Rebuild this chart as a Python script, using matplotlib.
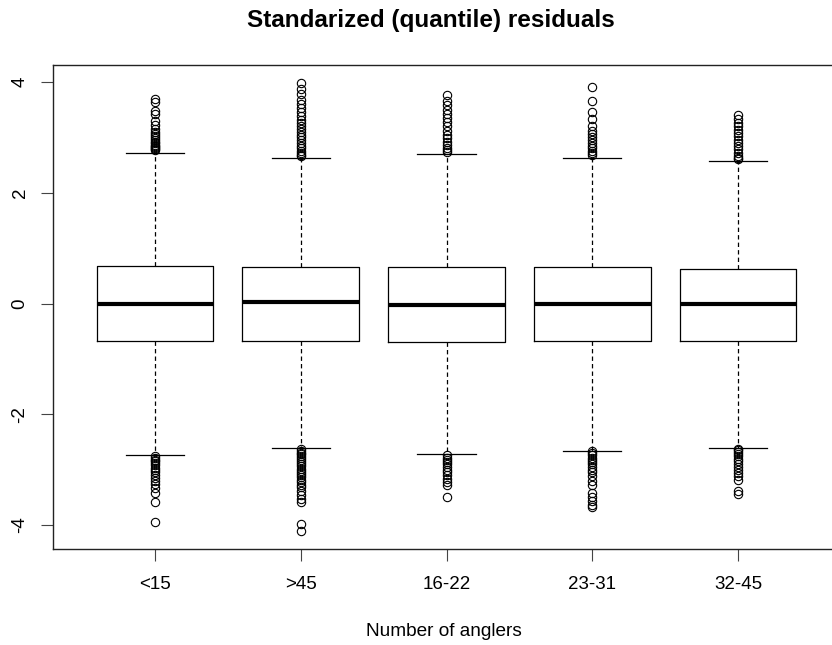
import matplotlib
matplotlib.use("Agg")
import matplotlib.pyplot as plt

plt.rcParams['font.family'] = ['Liberation Sans', 'DejaVu Sans']

categories = ["<15", ">45", "16-22", "23-31", "32-45"]
q1 = [-0.68, -0.68, -0.70, -0.67, -0.67]
med = [0.00, 0.02, -0.02, 0.00, 0.00]
q3 = [0.67, 0.65, 0.65, 0.65, 0.63]
whislo = [-2.74, -2.61, -2.72, -2.67, -2.61]
whishi = [2.72, 2.63, 2.70, 2.63, 2.58]

fliers_upper = [
    [3.70, 3.63, 3.48, 3.42, 3.30, 3.22, 3.15, 3.10, 3.06, 3.02, 2.98, 2.95, 2.92,
     2.90, 2.87, 2.85, 2.83, 2.81, 2.79, 2.77],
    [3.98, 3.87, 3.78, 3.68, 3.60, 3.52, 3.45, 3.38, 3.32, 3.26, 3.20, 3.15, 3.10,
     3.05, 3.00, 2.95, 2.90, 2.85, 2.80, 2.76, 2.72, 2.68, 2.66],
    [3.76, 3.66, 3.58, 3.50, 3.42, 3.35, 3.27, 3.20, 3.12, 3.05, 2.98, 2.92, 2.86,
     2.81, 2.77, 2.74],
    [3.90, 3.66, 3.45, 3.33, 3.20, 3.12, 3.06, 3.00, 2.95, 2.90, 2.85, 2.80, 2.76,
     2.72, 2.68],
    [3.40, 3.33, 3.26, 3.20, 3.14, 3.08, 3.02, 2.96, 2.90, 2.84, 2.78, 2.72, 2.67,
     2.63, 2.60],
]
fliers_lower = [
    [-2.76, -2.79, -2.82, -2.85, -2.88, -2.92, -2.96, -3.00, -3.05, -3.10, -3.15,
     -3.20, -3.25, -3.33, -3.42, -3.58, -3.95],
    [-2.63, -2.66, -2.69, -2.72, -2.75, -2.78, -2.82, -2.86, -2.90, -2.94, -2.98,
     -3.02, -3.06, -3.10, -3.14, -3.18, -3.22, -3.27, -3.32, -3.38, -3.45, -3.52,
     -3.58, -3.98, -4.10],
    [-2.74, -2.78, -2.82, -2.86, -2.90, -2.95, -3.00, -3.05, -3.10, -3.16, -3.22,
     -3.28, -3.50],
    [-2.67, -2.70, -2.74, -2.78, -2.82, -2.86, -2.90, -2.95, -3.00, -3.05, -3.12,
     -3.20, -3.28, -3.42, -3.50, -3.57, -3.63, -3.68],
    [-2.62, -2.65, -2.68, -2.72, -2.76, -2.80, -2.85, -2.90, -2.95, -3.00, -3.06,
     -3.12, -3.18, -3.38, -3.44],
]
yticks = [-4, -2, 0, 2, 4]

W, H = 832, 645
fig = plt.figure(figsize=(W / 100, H / 100), dpi=100)
left_px, right_px, top_px, bottom_px = 53, 850, 65, 549
ax = fig.add_axes([left_px / W, 1 - bottom_px / H,
                   (right_px - left_px) / W, (bottom_px - top_px) / H])

stats = []
for i, c in enumerate(categories):
    stats.append(dict(label=c, q1=q1[i], med=med[i], q3=q3[i],
                      whislo=whislo[i], whishi=whishi[i],
                      fliers=fliers_upper[i] + fliers_lower[i]))

ax.bxp(stats, positions=range(1, len(categories) + 1), widths=0.8,
       boxprops=dict(color='black', linewidth=0.9),
       medianprops=dict(color='black', linewidth=3.0, solid_capstyle='butt'),
       whiskerprops=dict(color='black', linewidth=0.9, linestyle=(0, (3.5, 2.5))),
       capprops=dict(color='black', linewidth=0.9),
       capwidths=0.4,
       flierprops=dict(marker='o', markersize=6, markerfacecolor='none',
                       markeredgecolor='black', markeredgewidth=0.8))

ax.set_xlim(0.30, 1 + (right_px - 155) / 145.75)
ax.set_ylim(-4.431, 4.305)
ax.set_yticks(yticks)
ax.set_yticklabels([str(v) for v in yticks], rotation=90, va='center', fontsize=13.5)
ax.set_xticks(range(1, len(categories) + 1))
ax.set_xticklabels(categories, fontsize=13.5)
ax.tick_params(axis='both', length=8.6, width=0.8, color='#444444')
ax.tick_params(axis='x', pad=11)
ax.tick_params(axis='y', pad=9)
for s in ax.spines.values():
    s.set_linewidth(1.0)
    s.set_color('#222222')

fig.text(431 / W, 1 - 20 / H, "Standarized (quantile) residuals", fontsize=17.5,
         fontweight='bold', ha='center', va='center')
fig.text(444 / W, 1 - 632 / H, "Number of anglers", fontsize=13.7,
         ha='center', va='center')

fig.savefig("out.png", dpi=100)
